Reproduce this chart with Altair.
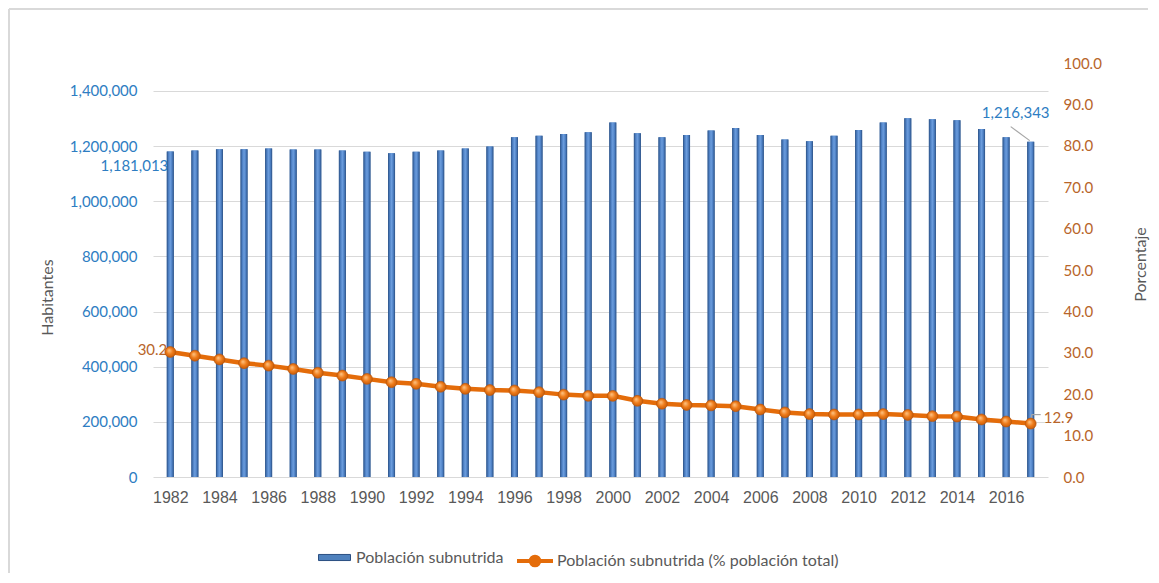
import altair as alt
import pandas as pd

years = list(range(1982, 2018))
poblacion = [1181013, 1184600, 1188300, 1188300, 1191900, 1188000, 1188000, 1184600,
             1179700, 1173800, 1179700, 1184600, 1191900, 1198400, 1232000, 1237600,
             1243600, 1250800, 1285600, 1247200, 1232000, 1240000, 1256700, 1266000,
             1240000, 1224000, 1218000, 1237600, 1258600, 1285600, 1301000, 1297400,
             1294000, 1262000, 1232000, 1216343]
porcentaje = [30.2, 29.3, 28.4, 27.5, 26.9, 26.1, 25.2, 24.5, 23.7, 22.9, 22.5, 21.8,
              21.3, 21.0, 20.9, 20.5, 19.9, 19.6, 19.6, 18.4, 17.7, 17.4, 17.3, 17.1,
              16.3, 15.6, 15.2, 15.1, 15.1, 15.2, 15.0, 14.7, 14.6, 13.9, 13.4, 12.9]
tick_years = list(range(1982, 2017, 2))
left_ticks = list(range(0, 1400001, 200000))
right_ticks = [0, 10, 20, 30, 40, 50, 60, 70, 80, 90, 100]
serie_barras = "Población subnutrida"
serie_linea = "Población subnutrida (% población total)"

df = pd.DataFrame({"year": years, "pop": poblacion, "pct": porcentaje})
df["s1"] = serie_barras
df["s2"] = serie_linea

FONT = "Lato"
GREY = "#595959"
BLUE_TXT = "#2E7DC2"
BROWN_TXT = "#B8652A"
ORANGE = "#E46C0A"

x_enc = alt.X("year:Q",
              scale=alt.Scale(domain=[1981.5, 2017.5], nice=False, zero=False),
              axis=alt.Axis(values=tick_years, format="d", title=None, labelAngle=0,
                            labelFont="Liberation Sans", labelFontSize=16, labelColor=GREY,
                            labelPadding=12, ticks=False, domain=False, grid=False,
                            labelFlush=False))

y_left = alt.Y("pop:Q",
               scale=alt.Scale(domain=[0, 1501554], nice=False, zero=True),
               axis=alt.Axis(values=left_ticks, labelExpr="format(datum.value, ',')",
                             title="Habitantes",
                             titleFont=FONT, titleFontSize=16, titleFontWeight="normal",
                             titleColor=GREY, titleAngle=270, titleX=-106, titleY=234,
                             titleAlign="center", titleBaseline="middle",
                             labelFont=FONT, labelFontSize=15, labelColor=BLUE_TXT,
                             labelPadding=16, ticks=False, domain=False, grid=True,
                             gridColor="#D9D9D9", gridWidth=1.2))

y_right = alt.Y("pct:Q",
                scale=alt.Scale(domain=[0, 100], nice=False, zero=True),
                axis=alt.Axis(values=right_ticks, labelExpr="format(datum.value, '.1f')",
                              title="Porcentaje",
                              orient="right",
                              titleFont=FONT, titleFontSize=16, titleFontWeight="normal",
                              titleColor=GREY, titleAngle=270, titleX=92, titleY=201,
                              titleAlign="center", titleBaseline="middle",
                              labelFont=FONT, labelFontSize=15, labelColor=BROWN_TXT,
                              labelPadding=15, ticks=False, domain=False, grid=False))

base = alt.Chart(df)

bar_grad = alt.Gradient(
    gradient="linear", x1=0, x2=1, y1=0, y2=0,
    stops=[alt.GradientStop(offset=0, color="#2B4F82"),
           alt.GradientStop(offset=0.25, color="#4D80C4"),
           alt.GradientStop(offset=0.5, color="#6C9DDD"),
           alt.GradientStop(offset=0.75, color="#4D80C4"),
           alt.GradientStop(offset=1, color="#2B4F82")])

bars_legend = base.mark_bar(size=7).encode(
    x=x_enc, y=y_left,
    color=alt.Color("s1:N", scale=alt.Scale(domain=[serie_barras], range=["#4F81BD"]),
                    legend=alt.Legend(title=None, orient="none", legendX=165, legendY=478,
                                      padding=0,
                                      symbolType="M-1,-0.19H1V0.19H-1Z", symbolSize=1024,
                                      symbolStrokeColor="#2B4F82", symbolStrokeWidth=1,
                                      labelFont=FONT, labelFontSize=16, labelColor=GREY,
                                      labelOffset=5, labelLimit=400)))
bars_top = base.mark_bar(size=7, fill=bar_grad).encode(x=x_enc, y=y_left)

lbl_first = base.transform_filter("datum.year == 1982").mark_text(
    align="right", baseline="middle", dx=-2, dy=15, font=FONT, fontSize=15,
    color=BLUE_TXT).encode(x=x_enc, y=y_left, text=alt.Text("pop:Q", format=","))
lbl_last = base.transform_filter("datum.year == 2017").mark_text(
    align="center", baseline="middle", dx=-15, dy=-29, font=FONT, fontSize=15,
    color=BLUE_TXT).encode(x=x_enc, y=y_left, text=alt.Text("pop:Q", format=","))
leader_last = base.transform_filter("datum.year == 2017").mark_rule(
    color="#A6A6A6", strokeWidth=1.2, xOffset=-20, yOffset=-15, x2Offset=-1, y2Offset=-1
).encode(x=x_enc, x2=alt.X2("year"), y=y_left, y2=alt.Y2("pop"))

frame_df = pd.DataFrame({"k": [0]})
frame_top = alt.Chart(frame_df).mark_rule(color="#D9D9D9", strokeWidth=2).encode(
    x=alt.value(-144), x2=alt.value(995), y=alt.value(-54), y2=alt.value(-54))
frame_left = alt.Chart(frame_df).mark_rule(color="#D9D9D9", strokeWidth=2).encode(
    x=alt.value(-144), x2=alt.value(-144), y=alt.value(-54), y2=alt.value(510))

bars_group = alt.layer(frame_top, frame_left, bars_legend, bars_top, lbl_first,
                       lbl_last, leader_last)

point_grad = alt.Gradient(
    gradient="radial", x1=0.38, y1=0.35, r1=0, x2=0.5, y2=0.5, r2=0.6,
    stops=[alt.GradientStop(offset=0, color="#FFC88A"),
           alt.GradientStop(offset=0.5, color="#EE7A18"),
           alt.GradientStop(offset=1, color="#B85306")])

line = base.mark_line(strokeWidth=4.5).encode(
    x=x_enc, y=y_right,
    stroke=alt.Stroke("s2:N", scale=alt.Scale(domain=[serie_linea], range=[ORANGE]),
                      legend=alt.Legend(title=None, orient="none", legendX=362, legendY=478,
                                        padding=0,
                                        symbolType="M-1,0H1M0.24,0A0.24,0.24,0,1,1,-0.24,0A0.24,0.24,0,1,1,0.24,0Z",
                                        symbolSize=1296, symbolStrokeWidth=4,
                                        symbolFillColor=ORANGE,
                                        labelFont=FONT, labelFontSize=16, labelColor=GREY,
                                        labelOffset=2, labelLimit=400)))
lbl_pct_first = base.transform_filter("datum.year == 1982").mark_text(
    align="right", baseline="middle", dx=-3, dy=-2, font=FONT, fontSize=15,
    color=BROWN_TXT).encode(x=x_enc, y=y_right, text=alt.Text("pct:Q", format=".1f"))
lbl_pct_last = base.transform_filter("datum.year == 2017").mark_text(
    align="left", baseline="middle", dx=13, dy=-6, font=FONT, fontSize=15,
    color=BROWN_TXT).encode(x=x_enc, y=y_right, text=alt.Text("pct:Q", format=".1f"))
leader_pct_h = base.transform_filter("datum.year == 2017").mark_rule(
    color="#A6A6A6", strokeWidth=1.2, xOffset=1, x2Offset=10, yOffset=-9, y2Offset=-9
).encode(x=x_enc, x2=alt.X2("year"), y=y_right, y2=alt.Y2("pct"))
leader_pct_v = base.transform_filter("datum.year == 2017").mark_rule(
    color="#A6A6A6", strokeWidth=1.2, xOffset=1, x2Offset=1, yOffset=-9, y2Offset=-5
).encode(x=x_enc, x2=alt.X2("year"), y=y_right, y2=alt.Y2("pct"))
points = base.mark_point(filled=True, size=120, shape="circle", fill=point_grad,
                         stroke="#B85306", strokeWidth=0.6, opacity=1).encode(
    x=x_enc, y=y_right)

line_group = alt.layer(line, lbl_pct_first, lbl_pct_last, leader_pct_h, leader_pct_v,
                       points)

chart = alt.layer(bars_group, line_group).resolve_scale(y="independent").properties(
    width=895, height=414,
    autosize=alt.AutoSizeParams(type="none"),
    padding={"left": 145, "top": 55, "right": 103, "bottom": 96},
    background="white",
).configure_view(stroke=None)

chart.save("out.html", embed_options={"renderer": "svg", "actions": False})
